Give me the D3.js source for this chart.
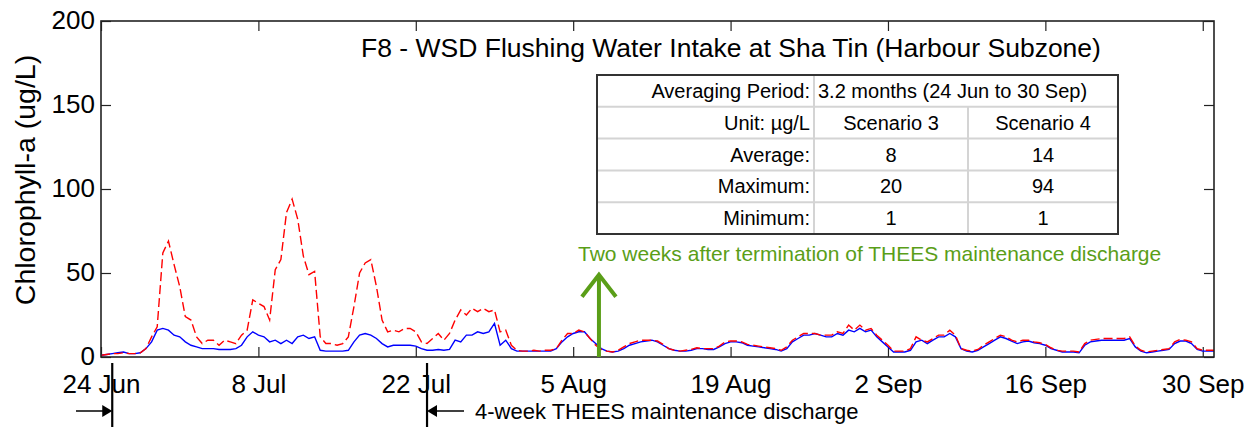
<!DOCTYPE html>
<html><head><meta charset="utf-8">
<script src="https://cdn.jsdelivr.net/npm/d3@7"></script>
<style>
body{margin:0;background:#fff;}
text{font-family:"Liberation Sans", Arial, sans-serif;}
</style>
</head><body>
<svg id="chart" width="1255" height="429"></svg>
<script>
// ---------------- DATA ----------------
const startDate = new Date(2020, 5, 24);   // 24 Jun
const endDate = new Date(2020, 9, 1);      // 1 Oct (end of 30 Sep)
const stepHours = 12;

// Scenario 3 (blue, solid) – chlorophyll-a (ug/L), every 12 h from 24 Jun
const scenario3 = [
  1,1.5,2,2.5,3,2,2,2.5,5,9,
  16,17,16,13,12,9,7,6,5,5,
  5,4.5,4.5,4.5,5,7,12,15,13,12,
  9,10,8,10,8,12,13,11,12,4,
  3.5,3.5,3.5,3.5,4,9,13,14,13,11,
  8,6,7,7,7,7,6.5,5,4,4,
  4.5,4,4.5,10,9,13,13,15,14,15,
  20,7,10,5,3.5,3.5,3.5,3.5,3.5,3.5,
  3.5,5,9,12,14,15,15,11,8,5,
  3.5,3,3.5,5,7,8,9,9.5,10,9,
  7,5,4,3.5,3.5,4,5,5,4.5,4.5,
  6,8,9,9,8.5,7,6.5,6,5.5,5,
  4.5,3.5,5,9,11,13,13,14,13,12,
  12,14,13,16,15,17,15,16,12,9,
  6,3,3,3,4,9,10,8,10,12,
  12,14,12,5,3.5,3,4,6,8,10,
  12,11,9.5,8,9,9.5,8.5,8,7,5,
  4,3,3,3,2.5,7,9,9.5,10,10,
  10,10,10,11,6,3.5,2.5,3,3.5,4,
  4.5,8,9.5,9.5,8,4.5,3.5,3.5,3.5
];

// Scenario 4 (red, dashed) – chlorophyll-a (ug/L), every 12 h from 24 Jun
const scenario4 = [
  1,1.5,2,2,2.5,2,2,2.5,5,12,
  18,62,69,55,42,24,22,12,8,10,
  10,7,10,9,8,13,16,34,32,30,
  22,52,58,86,94,82,60,49,51,12,
  8,8,7,8,12,30,50,56,58,42,
  22,15,16,15,17,17,15,9,8,11,
  14,10,14,22,28,25,29,27,29,27,
  28,15,16,7,4,3.5,3.5,4,3.5,4,
  4,5,10,14,14,16,15,11,7,4.5,
  3.5,3,4,6,8,9,10,10,10,9.5,
  7.5,5,4,3.5,4,4.5,5.5,5,5,5,
  6.5,9,9.5,9.5,9,7.5,7,6.5,6,5.5,
  5,4,6,10,12,14,14,14,13,13,
  13,15,14,19,16,19,16,17,13,10,
  7,3.5,3.5,3.5,5,12,10,9,11,13,
  13,16,13,5,4,3.5,4.5,7,9,11,
  13,12,10,9,10,10,9,8.5,7.5,5.5,
  4,3.5,3.5,3.5,3,8,10,10.5,11,11,
  11,11,11,12,6.5,4,3,3.5,4,4.5,
  5,9,10.5,10,9,5,4,4,4
];

const xTickDates = [
  new Date(2020,5,24), new Date(2020,6,8), new Date(2020,6,22), new Date(2020,7,5),
  new Date(2020,7,19), new Date(2020,8,2), new Date(2020,8,16), new Date(2020,8,30)
];
const yTicks = [0, 50, 100, 150, 200];

const titleText = "F8 - WSD Flushing Water Intake at Sha Tin (Harbour Subzone)";
const yLabelText = "Chlorophyll-a (ug/L)";

const tableHeader = ["Averaging Period:", "3.2 months (24 Jun to 30 Sep)"];
const tableColumns = ["Unit: \u00b5g/L", "Scenario 3", "Scenario 4"];
const statNames = ["Average:", "Maximum:", "Minimum:"];
const statScenario3 = [8, 20, 1];
const statScenario4 = [14, 94, 1];

const dischargeStart = new Date(2020, 5, 25);
const dischargeEnd = new Date(2020, 6, 23);
const dischargeText = "4-week THEES maintenance discharge";
const afterDate = new Date(2020, 7, 7, 7);
const afterArrowTop = 49;
const afterText = "Two weeks after termination of THEES maintenance discharge";

// ---------------- LAYOUT ----------------
const svg = d3.select("#chart");
const L = 101, R = 1214, T = 21, B = 357;
const x = d3.scaleTime().domain([startDate, endDate]).range([L, R]);
const y = d3.scaleLinear().domain([0, 200]).range([B, T]);
const tAt = i => d3.timeHour.offset(startDate, i * stepHours);

svg.append("defs").append("clipPath").attr("id", "clip")
  .append("rect").attr("x", L).attr("y", T).attr("width", R - L).attr("height", B - T);

// axes
const fmt = d3.timeFormat("%-d %b");
const ax = svg.append("g").attr("transform", `translate(0,${B})`)
  .call(d3.axisBottom(x).tickValues(xTickDates).tickFormat(fmt).tickSizeInner(-10).tickSizeOuter(0).tickPadding(18));
const axTop = svg.append("g").attr("transform", `translate(0,${T})`)
  .call(d3.axisTop(x).tickValues(xTickDates).tickFormat("").tickSizeInner(-10).tickSizeOuter(0));
const ay = svg.append("g").attr("transform", `translate(${L},0)`)
  .call(d3.axisLeft(y).tickValues(yTicks).tickSizeInner(-10).tickSizeOuter(0).tickPadding(6));
const ayR = svg.append("g").attr("transform", `translate(${R},0)`)
  .call(d3.axisRight(y).tickValues(yTicks).tickFormat("").tickSizeInner(-10).tickSizeOuter(0));
[ax, axTop, ay, ayR].forEach(g => {
  g.select(".domain").remove();
  g.selectAll(".tick line").attr("stroke", "#222").attr("stroke-width", 1.2);
  g.selectAll(".tick text").attr("font-size", 26).attr("fill", "#000")
    .attr("font-family", "'Liberation Sans', Arial, sans-serif");
});
ay.selectAll(".tick text").attr("dy", "0.3em");

// data lines
const line = d3.line().x((d, i) => x(tAt(i))).y(d => y(d));
const gl = svg.append("g").attr("clip-path", "url(#clip)");
gl.append("path").datum(scenario3).attr("d", line)
  .attr("fill", "none").attr("stroke", "#0000ff").attr("stroke-width", 1.4);
gl.append("path").datum(scenario4).attr("d", line)
  .attr("fill", "none").attr("stroke", "#ff0000").attr("stroke-width", 1.4)
  .attr("stroke-dasharray", "9,4");

// frame
svg.append("rect").attr("x", L).attr("y", T).attr("width", R - L).attr("height", B - T)
  .attr("fill", "none").attr("stroke", "#222").attr("stroke-width", 1.6);

// title
svg.append("text").attr("x", 731).attr("y", 57).attr("text-anchor", "middle")
  .attr("font-size", 26.5).text(titleText);

// y label
svg.append("text").attr("transform", `translate(35,180) rotate(-90)`)
  .attr("text-anchor", "middle").attr("font-size", 28.5).text(yLabelText);

// table
const tx0 = 597, tx1 = 814, tx2 = 968, tx3 = 1118, ty0 = 75, rh = 31.8;
const tg = svg.append("g");
tg.append("rect").attr("x", tx0).attr("y", ty0).attr("width", tx3 - tx0).attr("height", rh * 5)
  .attr("fill", "#fff");
const grid = "#d4d4d4";
for (let r = 1; r < 5; r++) {
  tg.append("line").attr("x1", tx0).attr("x2", tx3).attr("y1", ty0 + r * rh).attr("y2", ty0 + r * rh)
    .attr("stroke", grid).attr("stroke-width", 2);
}
tg.append("line").attr("x1", tx1).attr("x2", tx1).attr("y1", ty0).attr("y2", ty0 + 5 * rh)
  .attr("stroke", grid).attr("stroke-width", 2);
tg.append("line").attr("x1", tx2).attr("x2", tx2).attr("y1", ty0 + rh).attr("y2", ty0 + 5 * rh)
  .attr("stroke", grid).attr("stroke-width", 2);
tg.append("rect").attr("x", tx0).attr("y", ty0).attr("width", tx3 - tx0).attr("height", rh * 5)
  .attr("fill", "none").attr("stroke", "#333").attr("stroke-width", 2);
const cellY = r => ty0 + r * rh + rh / 2 + 7;
tg.append("text").attr("x", tx1 - 4).attr("y", cellY(0)).attr("text-anchor", "end").attr("font-size", 20).text(tableHeader[0]);
tg.append("text").attr("x", tx1 + 4).attr("y", cellY(0)).attr("text-anchor", "start").attr("font-size", 20).text(tableHeader[1]);
tg.append("text").attr("x", tx1 - 4).attr("y", cellY(1)).attr("text-anchor", "end").attr("font-size", 20).text(tableColumns[0]);
tg.append("text").attr("x", (tx1 + tx2) / 2).attr("y", cellY(1)).attr("text-anchor", "middle").attr("font-size", 20).text(tableColumns[1]);
tg.append("text").attr("x", (tx2 + tx3) / 2).attr("y", cellY(1)).attr("text-anchor", "middle").attr("font-size", 20).text(tableColumns[2]);
statNames.forEach((n, i) => {
  tg.append("text").attr("x", tx1 - 4).attr("y", cellY(i + 2)).attr("text-anchor", "end").attr("font-size", 20).text(n);
  tg.append("text").attr("x", (tx1 + tx2) / 2).attr("y", cellY(i + 2)).attr("text-anchor", "middle").attr("font-size", 20).text(statScenario3[i]);
  tg.append("text").attr("x", (tx2 + tx3) / 2).attr("y", cellY(i + 2)).attr("text-anchor", "middle").attr("font-size", 20).text(statScenario4[i]);
});

// green annotation
const green = "#5a9e18";
const ax0 = x(afterDate);
svg.append("line").attr("x1", ax0).attr("x2", ax0).attr("y1", y(0)).attr("y2", y(afterArrowTop))
  .attr("stroke", green).attr("stroke-width", 4);
svg.append("path").attr("d", `M${ax0 - 17},${y(afterArrowTop) + 22}L${ax0},${y(afterArrowTop)}L${ax0 + 17},${y(afterArrowTop) + 22}`)
  .attr("fill", "none").attr("stroke", green).attr("stroke-width", 4);
svg.append("text").attr("x", 578).attr("y", 261).attr("font-size", 21).attr("fill", green).text(afterText);

// discharge period annotation
const xs = x(dischargeStart), xe = x(dischargeEnd);
[xs, xe].forEach(v => svg.append("line").attr("x1", v).attr("x2", v).attr("y1", 363).attr("y2", 427)
  .attr("stroke", "#000").attr("stroke-width", 2.2));
const ay0 = 411;
svg.append("line").attr("x1", 76).attr("x2", xs - 8).attr("y1", ay0).attr("y2", ay0).attr("stroke", "#000").attr("stroke-width", 1.5);
svg.append("path").attr("d", `M${xs},${ay0}L${xs - 10},${ay0 - 6}L${xs - 10},${ay0 + 6}Z`).attr("fill", "#000");
svg.append("line").attr("x1", xe + 8).attr("x2", xe + 37).attr("y1", ay0).attr("y2", ay0).attr("stroke", "#000").attr("stroke-width", 1.5);
svg.append("path").attr("d", `M${xe},${ay0}L${xe + 10},${ay0 - 6}L${xe + 10},${ay0 + 6}Z`).attr("fill", "#000");
svg.append("text").attr("x", 475).attr("y", ay0 + 8).attr("font-size", 22).text(dischargeText);
</script>
</body></html>
